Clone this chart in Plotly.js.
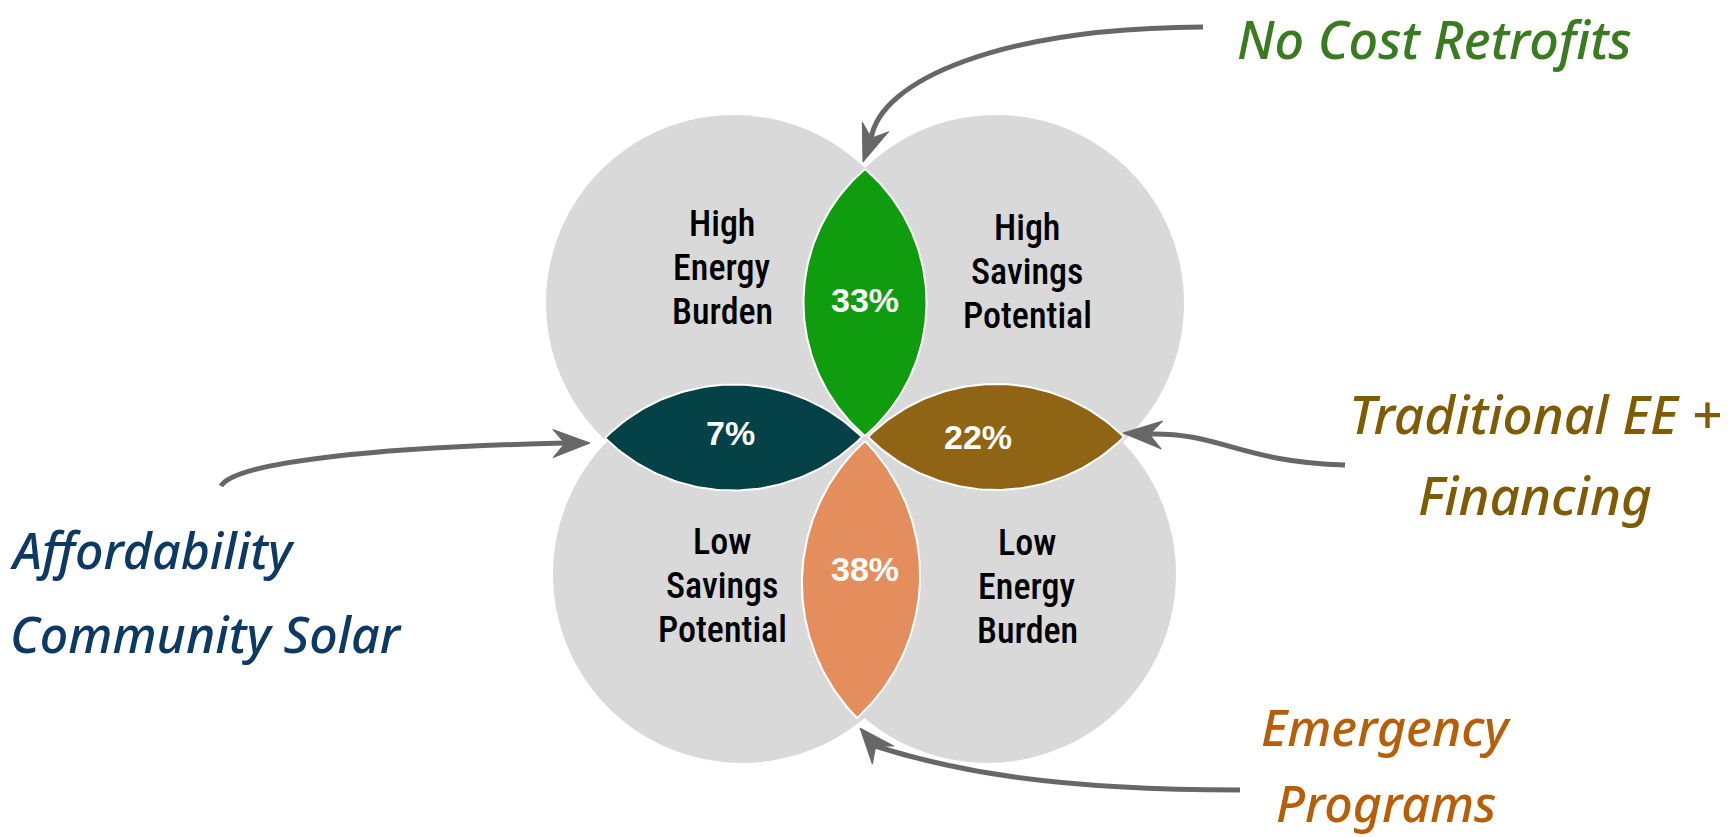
<!DOCTYPE html>
<html><head><meta charset="utf-8">
<script src="https://cdn.plot.ly/plotly-3.0.1.min.js"></script>
<style>html,body{margin:0;padding:0;background:#fff;overflow:hidden}#chart{width:1728px;height:837px;}</style>
</head><body><div id="chart"></div>
<script>
// ---- data ----
const regionLabels = [
  ["High", "Energy", "Burden"],
  ["High", "Savings", "Potential"],
  ["Low", "Savings", "Potential"],
  ["Low", "Energy", "Burden"]
];
const overlapShares = [33, 7, 22, 38];
const programLines = [
  ["No Cost Retrofits"],
  ["Affordability", "Community Solar"],
  ["Traditional EE +", "Financing"],
  ["Emergency", "Programs"]
];

// ---- styling / geometry ----
const overlapColors = ["#0F9C0E", "#054247", "#8F6414", "#E48E5E"];
const programColors = ["#3A7A21", "#0C3A64", "#7F5C04", "#B65E08"];
const programSizes = [52, 50, 53, 50];
const circleGeom = [[734, 303, 188], [996, 303, 188], [742, 574, 189], [987, 574, 189]];
const lensGeom = [
  {a: [865, 169], b: [865, 436], w: 61.5},
  {a: [605, 438], b: [862, 437], w: 53},
  {a: [868, 437], b: [1124, 437], w: 53},
  {a: [865, 441], b: [857, 718], w: 59}
];
const labelPos = [[722, 268], [1027, 272], [722, 586], [1027, 587]];
const sharePos = [[865, 300], [730, 433], [978, 437], [865, 569]];
const programPos = [
  {x: 1434, y: [1], anchor: "center", yanchor: "top"},
  {x: 8, y: [550, 634], anchor: "left", yanchor: "middle"},
  {x: 1535, y: [413, 494], anchor: "center", yanchor: "middle"},
  {x: 1386, y: [727, 803], anchor: "center", yanchor: "middle"}
];
const arrowPaths = [
  "M 1203,27 C 1000,28 880,80 871,139",
  "M 221,486 C 235,462 380,447 566,443",
  "M 1345,465 C 1240,462 1220,432 1148,434",
  "M 1240,790 C 1050,790 950,770 875,746"
];
const arrowHeads = [
  {tip: [863, 162], back: [875.5, 127]},
  {tip: [590, 443], back: [553, 443.5]},
  {tip: [1123, 433], back: [1162, 435]},
  {tip: [860, 728], back: [883, 755]}
];

// ---- pick a narrow font for the region labels ----
const ctx = document.createElement("canvas").getContext("2d");
function hasFont(fam) {
  const s = "Potential Savings mmmWWiil 0123";
  let diff = false;
  ["monospace", "serif"].forEach(base => {
    ctx.font = "72px " + base; const w0 = ctx.measureText(s).width;
    ctx.font = "72px '" + fam + "', " + base; const w1 = ctx.measureText(s).width;
    if (Math.abs(w0 - w1) > 0.5) diff = true;
  });
  return diff;
}
const narrowCandidates = [
  {fam: "Noto Sans ExtraCondensed Medium", weight: 400},
  {fam: "Noto Sans ExtraCondensed", weight: 500},
  {fam: "Noto Sans Condensed Medium", weight: 400},
  {fam: "Noto Sans Condensed", weight: 500},
  {fam: "Roboto Condensed", weight: 500},
  {fam: "Liberation Sans Narrow", weight: 400},
  {fam: "DejaVu Sans Condensed", weight: 400}
];
let narrow = narrowCandidates[narrowCandidates.length - 1];
for (const c of narrowCandidates) { if (hasFont(c.fam)) { narrow = c; break; } }
ctx.font = narrow.weight + " 100px '" + narrow.fam + "', sans-serif";
const potW = ctx.measureText("Potential").width;
const labelSize = Math.max(28, Math.min(44, 129 / potW * 100));

function lensPoints(A, B, w, n) {
  const mx = (A[0] + B[0]) / 2, my = (A[1] + B[1]) / 2;
  const dx = B[0] - A[0], dy = B[1] - A[1];
  const L = Math.hypot(dx, dy), a = L / 2;
  const ux = dx / L, uy = dy / L, nx = -uy, ny = ux;
  const R = (a * a + w * w) / (2 * w), phi = Math.asin(a / R);
  const xs = [], ys = [];
  for (let i = 0; i <= n; i++) {
    const t = -phi + 2 * phi * i / n;
    const cx = mx - nx * (R - w), cy = my - ny * (R - w);
    xs.push(cx + R * (Math.sin(t) * ux + Math.cos(t) * nx));
    ys.push(cy + R * (Math.sin(t) * uy + Math.cos(t) * ny));
  }
  for (let i = 0; i <= n; i++) {
    const t = phi - 2 * phi * i / n;
    const cx = mx + nx * (R - w), cy = my + ny * (R - w);
    xs.push(cx + R * (Math.sin(t) * ux - Math.cos(t) * nx));
    ys.push(cy + R * (Math.sin(t) * uy - Math.cos(t) * ny));
  }
  return {xs, ys};
}

const traces = lensGeom.map((g, i) => {
  const p = lensPoints(g.a, g.b, g.w, 80);
  return {
    type: "scatter", mode: "lines", x: p.xs, y: p.ys, fill: "toself",
    fillcolor: overlapColors[i], line: {color: "#ffffff", width: 2},
    hoverinfo: "skip", showlegend: false
  };
});

const shapes = [];
circleGeom.forEach(c => {
  shapes.push({type: "circle", xref: "x", yref: "y", layer: "below",
    x0: c[0] - c[2], x1: c[0] + c[2], y0: c[1] - c[2], y1: c[1] + c[2],
    fillcolor: "#D9D9D9", line: {color: "#D9D9D9", width: 0}});
});
arrowPaths.forEach(p => {
  shapes.push({type: "path", xref: "x", yref: "y", layer: "above", path: p,
    line: {color: "#676767", width: 5}, fillcolor: "rgba(0,0,0,0)"});
});
arrowHeads.forEach(h => {
  const dx = h.back[0] - h.tip[0], dy = h.back[1] - h.tip[1];
  const L = Math.hypot(dx, dy);
  const nx = -dy / L, ny = dx / L, W = 14;
  const b1 = [h.back[0] + nx * W, h.back[1] + ny * W];
  const b2 = [h.back[0] - nx * W, h.back[1] - ny * W];
  const nt = [h.tip[0] + dx * 0.68, h.tip[1] + dy * 0.68];
  shapes.push({type: "path", xref: "x", yref: "y", layer: "above",
    path: `M ${h.tip[0]},${h.tip[1]} L ${b1[0]},${b1[1]} L ${nt[0]},${nt[1]} L ${b2[0]},${b2[1]} Z`,
    fillcolor: "#676767", line: {color: "#676767", width: 1}});
});

const annotations = [];
const condFont = "'" + narrow.fam + "', 'DejaVu Sans Condensed', sans-serif";
regionLabels.forEach((lines, i) => {
  lines.forEach((t, j) => {
    annotations.push({xref: "x", yref: "y", x: labelPos[i][0], y: labelPos[i][1] + (j - 1) * 44,
      text: t, showarrow: false, xanchor: "center", yanchor: "middle",
      font: {family: condFont, size: labelSize, color: "#000000", weight: narrow.weight}});
  });
});
overlapShares.forEach((v, i) => {
  annotations.push({xref: "x", yref: "y", x: sharePos[i][0], y: sharePos[i][1],
    text: v + "%", showarrow: false, xanchor: "center", yanchor: "middle",
    font: {family: "'Liberation Sans', Arial, sans-serif", size: 34, color: "#ffffff", weight: 700}});
});
programLines.forEach((lines, i) => {
  lines.forEach((t, j) => {
    annotations.push({xref: "x", yref: "y", x: programPos[i].x, y: programPos[i].y[j],
      text: t, showarrow: false, xanchor: programPos[i].anchor, yanchor: programPos[i].yanchor,
      font: {family: "'Noto Sans', sans-serif", size: programSizes[i], color: programColors[i], style: "italic", weight: 500}});
  });
});

const layout = {
  width: 1728, height: 837, margin: {l: 0, r: 0, t: 0, b: 0, pad: 0},
  paper_bgcolor: "#ffffff", plot_bgcolor: "#ffffff", showlegend: false,
  xaxis: {range: [0, 1728], visible: false, fixedrange: true},
  yaxis: {range: [837, 0], visible: false, fixedrange: true},
  shapes, annotations
};
Plotly.newPlot("chart", traces, layout, {displayModeBar: false, staticPlot: true});
</script></body></html>
